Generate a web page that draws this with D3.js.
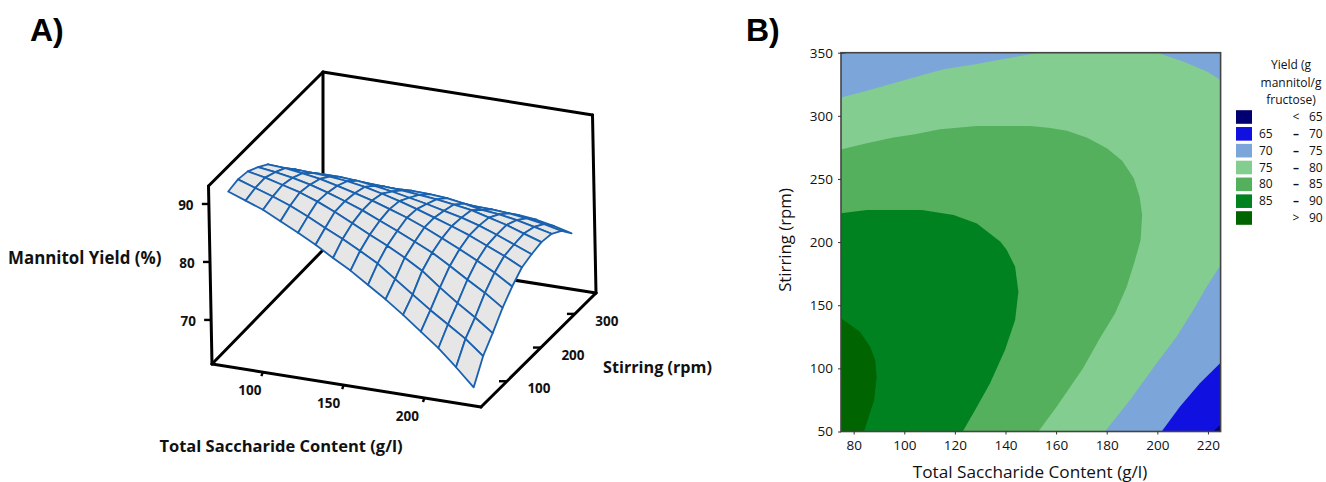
<!DOCTYPE html>
<html><head><meta charset="utf-8">
<style>html,body{margin:0;padding:0;background:#fff}svg{display:block}text{font-family:"Open Sans",sans-serif}</style>
<script src="https://cdn.jsdelivr.net/npm/d3@7/dist/d3.min.js"></script>
</head><body><svg id="c" width="1326" height="482"></svg>
<script>
// ---------- data: response surface (panel A) ----------
const saccharide = [75,85.7,96.4,107.1,117.9,128.6,139.3,150,160.7,171.4,182.1,192.9,203.6,214.3,225];
const stirring = [50,79,108,138,167,196,225,254,284,313,342];
const yieldS050 = [90.9,89.8,88.7,87.2,85.7,84.1,82.3,80.6,78.6,76.6,74.4,72,69.6,66.8,63.8];
const yieldS080 = [91.3,90.3,89.3,88.2,86.8,85.3,83.9,82.3,80.6,78.4,76.2,74,72,70,67.5];
const yieldS110 = [91,90.4,89.6,88.8,87.7,86.4,84.9,83.4,82,80.4,78.6,76.2,74,72,69.8];
const yieldS140 = [90,89.6,89.1,88.4,87.5,86.5,85.4,84.1,82.8,81.4,80,78.2,76.3,74.5,72.4];
const yieldS170 = [88.8,88.6,88.2,87.7,87,86.2,85.4,84.4,83.4,82.2,80.8,79.4,77.9,76.3,74.4];
const yieldS200 = [86.6,86.7,86.6,86.4,86.1,85.6,84.9,84.1,83.2,82.2,81.2,80.1,78.8,77.5,76];
const yieldS230 = [84.3,84.6,84.7,84.7,84.5,84.1,83.6,83,82.4,81.7,81,80.1,79,77.8,76.6];
const yieldS260 = [81.3,81.8,82.2,82.4,82.4,82.3,82.1,81.8,81.5,81.1,80.6,79.8,79,78,77];
const yieldS290 = [77.8,78.5,79.1,79.6,80,80.2,80.3,80.2,80,79.5,78.9,78.6,78.1,77.4,76.7];
const yieldS320 = [74.3,75,75.6,76.2,76.6,77,77.2,77.3,77.4,77.4,77.3,77.1,76.7,76.2,75.5];
const yieldS350 = [70,70.9,71.7,72.5,73.2,73.8,74.4,74.9,75.1,75.2,75.2,75.1,74.8,74.2,73.4];
const yieldRows = [yieldS050,yieldS080,yieldS110,yieldS140,yieldS170,yieldS200,yieldS230,yieldS260,yieldS290,yieldS320,yieldS350];
const xTicks3d = [100,150,200], sTicks3d = [100,200,300], zTicks3d = [70,80,90];

// ---------- data: contour boundaries (panel B), [saccharide, stirring] ----------
const c75 = [[75,314.6],[85.2,319.9],[102.3,329.6],[115.5,336.8],[128.7,341],[138,344.7],[149.8,348.7],[153.8,350],[200,350],[210.5,342.8],[219.8,335],[225,328.3],[225,181.8],[219.5,164.6],[214.2,146.2],[207.6,125],[199.7,104],[189.2,75],[179.3,50],[75,50]];
const c80 = [[75,273.4],[85.2,278.2],[95.7,282.9],[103.7,285.3],[114.2,289.3],[128.7,291.9],[149.8,291.9],[157.7,290.3],[164.3,288.2],[172.3,282.7],[180.2,274.2],[186.1,264.5],[190.7,250.5],[193,236],[194,221.4],[193.4,201.6],[191.2,185.8],[187.9,164.7],[183.3,143.6],[177.3,123.8],[170.7,100.3],[160.2,69.6],[153,50],[75,50]];
const c85 = [[75,222.8],[85.2,225.4],[107,225.4],[119.5,221.4],[128.7,214.8],[138,200.3],[140.5,193.7],[143.8,180.5],[145.1,160.7],[143.8,138.3],[139.8,114.5],[133.9,88.2],[128,67],[123.1,50],[75,50]];
const c90 = [[75,139.6],[82.5,129],[86.5,117.2],[88.5,106.6],[89.1,93.4],[88.1,74.9],[84.1,50],[75,50]];
const c70 = [[225,104.5],[216.8,88.2],[208.9,69.6],[201.7,50],[225,50]];
const c65 = [[225,55.5],[222.1,50],[225,50]];
const c70corner = [[75,350],[75,349],[78,350]];
const xTicks2d = [80,100,120,140,160,180,200,220], yTicks2d = [50,100,150,200,250,300,350];
const legendLow = ["","65","70","75","80","85",""];
const legendMid = ["<","–","–","–","–","–",">"];
const legendHigh = ["65","70","75","80","85","90","90"];
const legendColors = ["#000070","#1010e0","#7ca6d9","#82cd8f","#54b05c","#008220","#006400"];

const svg = d3.select("#c");

// ---------- panel A ----------
const A=[212,364], B=[481,407], C=[596,293], D=[323,250];
const rise=-178, leanX=-3.5;
const uScale=d3.scaleLinear().domain([68.5,235]).range([0,1]);
const vScale=d3.scaleLinear().domain([23.5,362]).range([0,1]);
const wScale=d3.scaleLinear().domain([62.4,93.1]).range([0,1]);
function proj(x,s,z){
  const u=uScale(x), v=vScale(s), w=wScale(z);
  const lean=leanX*(1-(1-u)*v);
  const px=(1-u)*(1-v)*A[0]+u*(1-v)*B[0]+u*v*C[0]+(1-u)*v*D[0]+w*lean;
  const py=(1-u)*(1-v)*A[1]+u*(1-v)*B[1]+u*v*C[1]+(1-u)*v*D[1]+w*rise;
  return [px,py];
}
const gA=svg.append("g");
const zlo=wScale.domain()[0], zhi=wScale.domain()[1];
const ul=uScale.domain(), vl=vScale.domain();
const edges=[
  [[ul[0],vl[0],zlo],[ul[0],vl[0],zhi]],
  [[ul[0],vl[0],zhi],[ul[0],vl[1],zhi]],
  [[ul[0],vl[1],zhi],[ul[1],vl[1],zhi]],
  [[ul[1],vl[1],zhi],[ul[1],vl[1],zlo]],
  [[ul[0],vl[1],zhi],[ul[0],vl[1],zlo]],
  [[ul[0],vl[0],zlo],[ul[1],vl[0],zlo]],
  [[ul[1],vl[0],zlo],[ul[1],vl[1],zlo]],
  [[ul[1],vl[1],zlo],[ul[0],vl[1],zlo]],
  [[ul[0],vl[1],zlo],[ul[0],vl[0],zlo]]
];
const line=d3.line();
gA.selectAll("path.box").data(edges).join("path").attr("class","box")
  .attr("d",e=>line(e.map(p=>proj(...p))))
  .attr("fill","none").attr("stroke","#000").attr("stroke-width",3).attr("stroke-linecap","round");

// surface cells, back to front
const cells=[];
for(let j=stirring.length-2;j>=0;j--){
  for(let i=0;i<saccharide.length-1;i++){
    cells.push([
      proj(saccharide[i],stirring[j],yieldRows[j][i]),
      proj(saccharide[i+1],stirring[j],yieldRows[j][i+1]),
      proj(saccharide[i+1],stirring[j+1],yieldRows[j+1][i+1]),
      proj(saccharide[i],stirring[j+1],yieldRows[j+1][i])
    ]);
  }
}
gA.selectAll("path.cell").data(cells).join("path").attr("class","cell")
  .attr("d",c=>line(c)+"Z")
  .attr("fill","#e6e6e6").attr("stroke","#1a62b0").attr("stroke-width",1.8).attr("stroke-linejoin","round");

// 3D ticks
const tickStroke=s=>s.attr("stroke","#000").attr("stroke-width",2.4);
const tickText=(x,y,t)=>gA.append("text").attr("x",x).attr("y",y).attr("text-anchor","middle")
    .attr("font-size",13.5).attr("font-weight",700).attr("fill","#111").text(t);
xTicks3d.forEach(t=>{
  const p=proj(t,vl[0],zlo);
  tickStroke(gA.append("line").attr("x1",p[0]).attr("y1",p[1]).attr("x2",p[0]-1.5).attr("y2",p[1]+4));
  tickText(p[0]-13-(t-100)*0.04,p[1]+23,t);
});
sTicks3d.forEach(t=>{
  const p=proj(ul[1],t,zlo);
  tickStroke(gA.append("line").attr("x1",p[0]).attr("y1",p[1]).attr("x2",p[0]-8).attr("y2",p[1]));
  tickText(p[0]+32,p[1]+12,t);
});
zTicks3d.forEach(t=>{
  const p=proj(ul[0],vl[0],t);
  tickStroke(gA.append("line").attr("x1",p[0]).attr("y1",p[1]).attr("x2",p[0]-7).attr("y2",p[1]));
  tickText(p[0]-23,p[1]+6,t);
});
const boldTitle=(x,y,t,anchor,size)=>svg.append("text").attr("x",x).attr("y",y).attr("text-anchor",anchor||"start")
  .attr("font-size",size).attr("font-weight",700).attr("fill","#111").text(t);
boldTitle(8,264,"Mannitol Yield (%)","start",16.9);
boldTitle(281,452,"Total Saccharide Content (g/l)","middle",16.5);
boldTitle(603,373,"Stirring (rpm)","start",16.2);
const panel=(x,t)=>svg.append("text").attr("x",x).attr("y",41).attr("font-size",32).attr("font-weight",700)
  .style("font-family","'Liberation Sans',Arial,sans-serif").attr("fill","#000").text(t);
panel(30,"A)"); panel(746,"B)");

// ---------- panel B ----------
const x=d3.scaleLinear().domain([75,225]).range([841,1220.6]);
const y=d3.scaleLinear().domain([50,350]).range([431.5,52.7]);
const gB=svg.append("g");
gB.append("rect").attr("x",x(75)).attr("y",y(350)).attr("width",x(225)-x(75)).attr("height",y(50)-y(350)).attr("fill",legendColors[2]);
const poly=d3.line().x(d=>x(d[0])).y(d=>y(d[1]));
const bands=[[c75,3],[c80,4],[c85,5],[c90,6],[c70,1],[c65,0],[c70corner,1]];
gB.selectAll("path.band").data(bands).join("path").attr("class","band")
  .attr("d",d=>poly(d[0])+"Z").attr("fill",d=>legendColors[d[1]]);
gB.append("rect").attr("x",x(75)).attr("y",y(350)).attr("width",x(225)-x(75)).attr("height",y(50)-y(350))
  .attr("fill","none").attr("stroke","#444").attr("stroke-width",1.6);
const axB=gB.append("g").attr("transform",`translate(0,${y(50)})`).call(d3.axisBottom(x).tickValues(xTicks2d).tickSize(3).tickSizeOuter(0).tickPadding(6));
const ayB=gB.append("g").attr("transform",`translate(${x(75)},0)`).call(d3.axisLeft(y).tickValues(yTicks2d).tickSize(3).tickSizeOuter(0).tickPadding(5));
[axB,ayB].forEach(a=>{
  a.select(".domain").remove();
  a.selectAll("line").attr("stroke","#333");
  a.selectAll("text").attr("font-size",13.5).attr("fill","#111").style("font-family","'Open Sans',sans-serif");
});
gB.append("text").attr("x",1030).attr("y",477.5).attr("text-anchor","middle").attr("font-size",17.2).attr("font-weight",500).attr("fill","#111").text("Total Saccharide Content (g/l)");
gB.append("text").attr("transform","translate(791,240) rotate(-90)").attr("text-anchor","middle").attr("font-size",16.8).attr("font-weight",500).attr("fill","#111").text("Stirring (rpm)");

// legend
const legTitle=["Yield (g","mannitol/g","fructose)"];
gB.selectAll("text.lt").data(legTitle).join("text").attr("class","lt").attr("x",1291).attr("y",(d,i)=>69+i*17.5)
  .attr("text-anchor","middle").attr("font-size",12).attr("fill","#111").text(d=>d);
const rowY=d3.scaleLinear().domain([0,6]).range([117,218]);
const rows=gB.selectAll("g.lg").data(legendColors).join("g").attr("class","lg").attr("transform",(d,i)=>`translate(0,${rowY(i)})`);
rows.append("rect").attr("x",1236).attr("y",-6.8).attr("width",16).attr("height",13.6).attr("fill",d=>d);
rows.append("text").attr("x",1259).attr("y",4).attr("font-size",12).attr("fill","#111").text((d,i)=>legendLow[i]);
rows.append("text").attr("x",1296).attr("y",4).attr("text-anchor","middle").attr("font-size",12).attr("fill","#111").attr("font-weight",(d,i)=>i>0&&i<6?700:400).text((d,i)=>legendMid[i]);
rows.append("text").attr("x",1309).attr("y",4).attr("font-size",12).attr("fill","#111").text((d,i)=>legendHigh[i]);
</script></body></html>
